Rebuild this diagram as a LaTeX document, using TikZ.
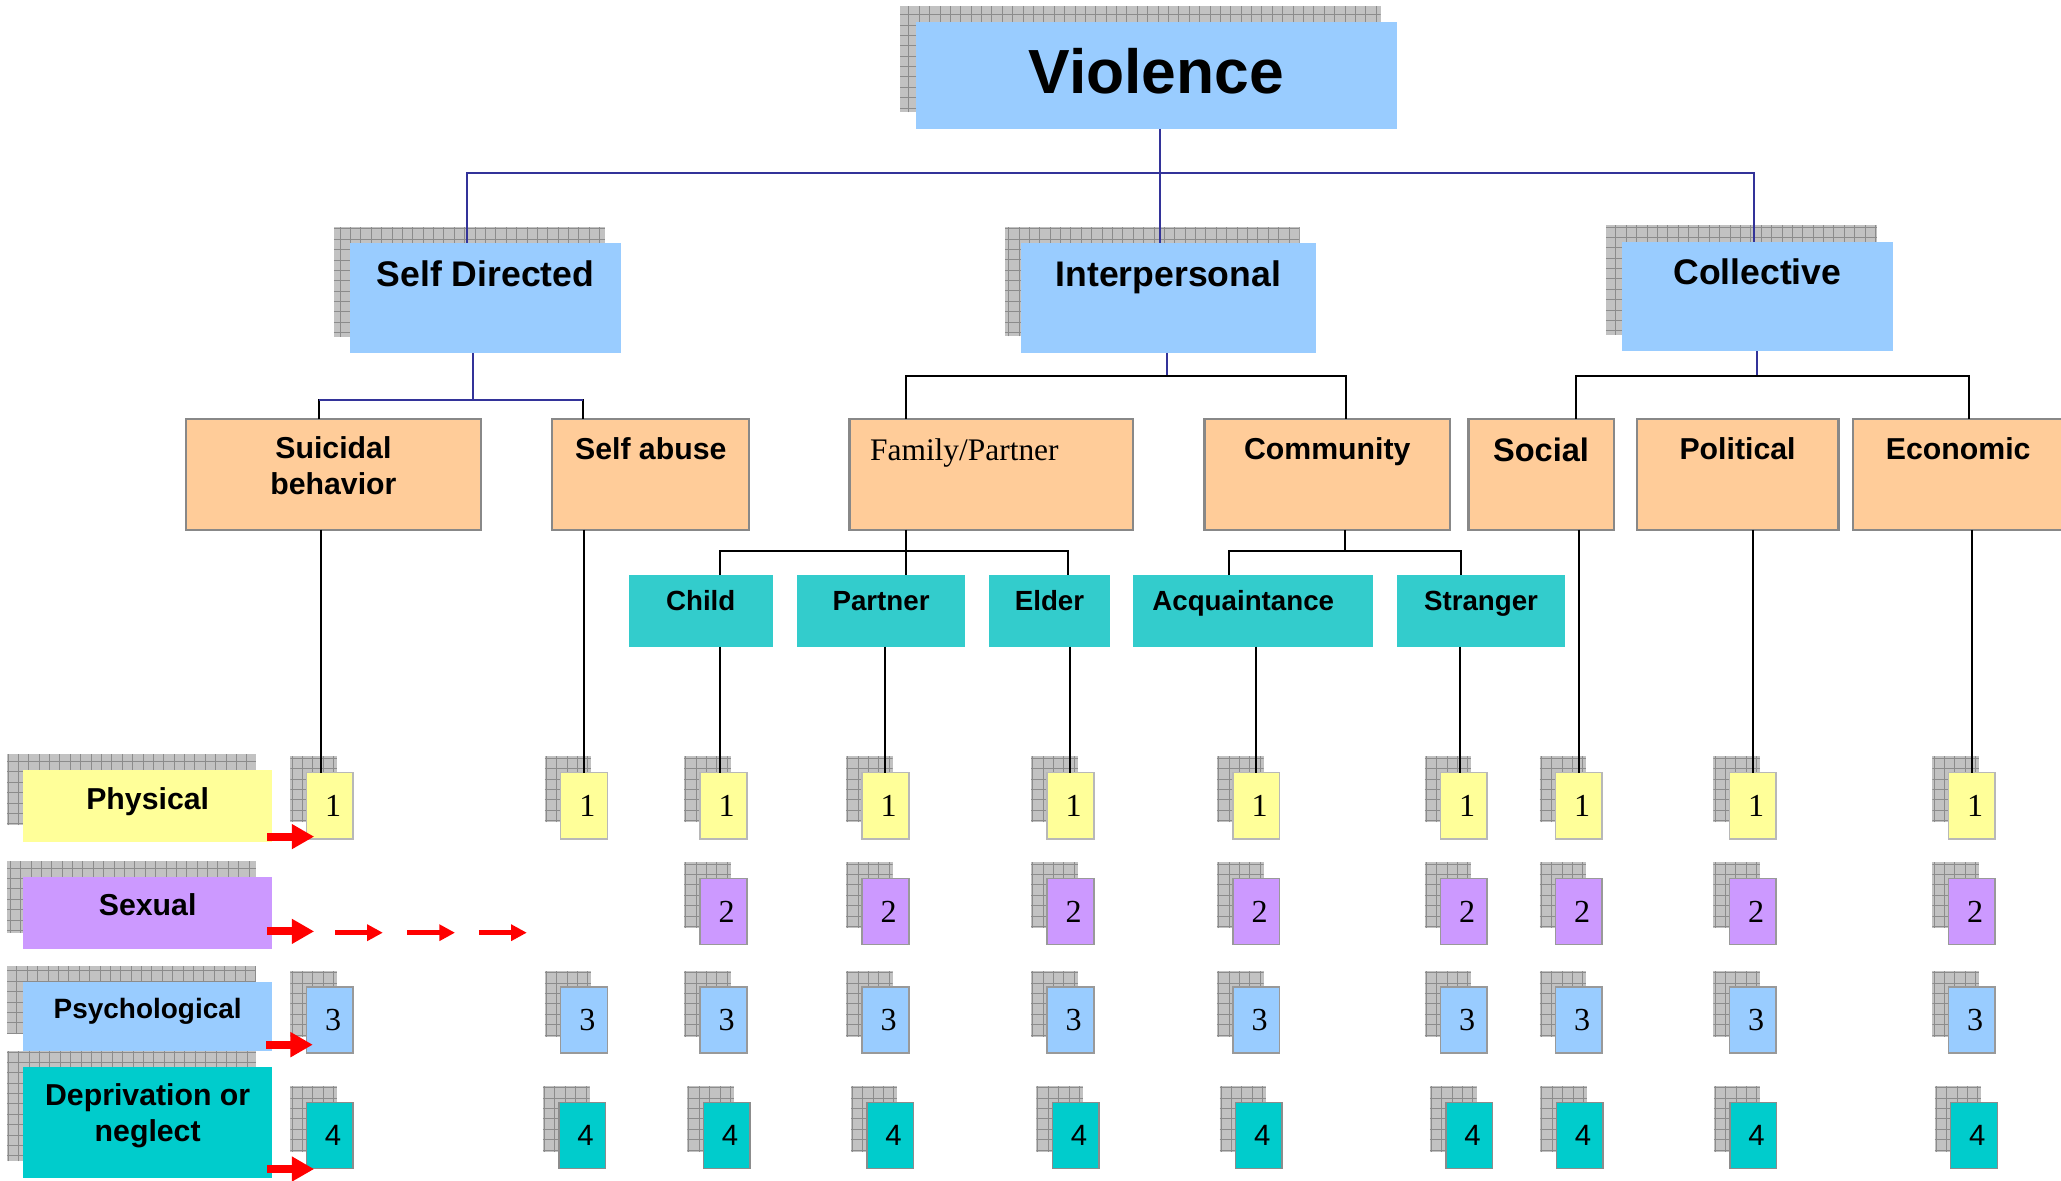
\documentclass[tikz,border=0pt]{standalone}
\usepackage{fontspec}
\setmainfont{Liberation Sans}
\newfontfamily\timesfont{Liberation Serif}
\usepackage{tikz}
\usetikzlibrary{arrows.meta,shadows}

\definecolor{skyblue}{HTML}{99CCFF}
\definecolor{peach}{HTML}{FFCC99}
\definecolor{tealbox}{HTML}{33CCCC}
\definecolor{paleyellow}{HTML}{FFFF99}
\definecolor{lilac}{HTML}{CC99FF}
\definecolor{cyanbox}{HTML}{00CCCC}
\definecolor{navyline}{HTML}{333399}
\definecolor{edgegray}{HTML}{888888}

\tikzset{
  box/.style={rectangle, inner sep=0pt, outer sep=0pt},
  gridshadow/.style={general shadow={shadow xshift=-0.244cm, shadow yshift=0.25cm, fill=black!24,
    path picture={\draw[black!45, line width=0.35pt, step=0.158cm]
      (path picture bounding box.south west) grid (path picture bounding box.north east);}}},
  topbox/.style={box, gridshadow, fill=skyblue, text height=0.66cm, text depth=1.01cm,
    font=\bfseries\fontsize{15.4}{18}\selectfont},
  kindbox/.style={box, fill=peach, draw=edgegray, line width=1pt, text height=0.62cm, text depth=1.066cm,
    font=\bfseries\fontsize{13.1}{15.6}\selectfont},
  subbox/.style={box, fill=tealbox, text height=0.542cm, text depth=0.548cm,
    font=\bfseries\fontsize{12}{14}\selectfont},
  legendbox/.style={box, gridshadow, minimum width=3.786cm, font=\bfseries\fontsize{13.1}{15.6}\selectfont},
  numbox/.style={box, gridshadow, minimum width=0.71cm, minimum height=1.006cm, line width=0.7pt,
    font=\timesfont\fontsize{13.9}{16}\selectfont, execute at begin node={\hspace{0.1cm}}},
  nphys/.style={numbox, fill=paleyellow, draw=black!28},
  nsex/.style={numbox, fill=lilac, draw=black!40},
  npsych/.style={numbox, fill=skyblue, draw=black!40},
  ndepr/.style={numbox, fill=cyanbox, draw=black!45, font=\fontsize{12.7}{15}\selectfont},
  buslink/.style={draw=navyline, line width=0.9pt},
  link/.style={draw=black, line width=0.85pt},
  bigarrow/.style={draw=red, line width=0.12cm, -{Triangle[length=0.34cm,width=0.36cm]}},
  smallarrow/.style={draw=red, line width=0.07cm, -{Triangle[length=0.24cm,width=0.24cm]}},
}

\begin{document}
\begin{tikzpicture}
%
\useasboundingbox (0,0) rectangle (31.36cm,17.96cm);
%
% top of the tree
\node[topbox, minimum width=7.31cm, text height=1.08cm, text depth=0.54cm,
  font=\bfseries\fontsize{27}{32}\selectfont] (viol) at (17.595,16.81) {Violence};
\node[topbox, minimum width=4.124cm] (selfdir) at (7.388,13.421) {Self Directed};
\node[topbox, minimum width=4.484cm] (inter) at (17.778,13.425) {Interpersonal};
\node[topbox, minimum width=4.12cm] (coll) at (26.74,13.45) {Collective};
%
% kinds
\node[kindbox, minimum width=4.494cm, align=center, text height=1.154cm, text depth=0.532cm] (suic) at (5.073,10.739) {Suicidal\\behavior};
\node[kindbox, minimum width=2.996cm] (sabuse) at (9.902,10.739) {Self abuse};
\node[kindbox, text width=3.688cm, inner xsep=0.316cm, align=left, text height=0.622cm, text depth=1.064cm,
  font=\timesfont\fontsize{13.6}{16}\selectfont] (family) at (15.084,10.739) {Family/Partner};
\node[kindbox, minimum width=3.738cm] (comm) at (20.195,10.739) {Community};
\node[kindbox, minimum width=2.212cm, text height=0.646cm, text depth=1.04cm,
  font=\bfseries\fontsize{14.1}{17}\selectfont] (social) at (23.448,10.739) {Social};
\node[kindbox, minimum width=3.068cm] (polit) at (26.438,10.739) {Political};
\node[kindbox, minimum width=3.21cm] (econ) at (29.795,10.739) {Economic};
%
\node[subbox, minimum width=2.196cm] (child) at (10.662,8.665) {Child};
\node[subbox, minimum width=2.556cm] (partner) at (13.406,8.665) {Partner};
\node[subbox, minimum width=1.842cm] (elder) at (15.969,8.665) {Elder};
\node[subbox, text width=3.062cm, inner xsep=0.29cm, align=left] (acq) at (19.065,8.665) {Acquaintance};
\node[subbox, minimum width=2.554cm] (stranger) at (22.535,8.665) {Stranger};
%
% nature of the violence
\node[legendbox, fill=paleyellow, text height=0.594cm, text depth=0.498cm] (phys) at (2.247,5.698) {Physical};
\node[legendbox, fill=lilac, text height=0.588cm, text depth=0.508cm] (sex) at (2.247,4.068) {Sexual};
\node[legendbox, fill=skyblue, text height=0.548cm, text depth=0.492cm,
  font=\bfseries\fontsize{12.1}{14}\selectfont] (psych) at (2.247,2.492) {Psychological};
\node[legendbox, fill=cyanbox, align=center, text height=1.122cm, text depth=0.558cm] (depr) at (2.247,0.88) {Deprivation or\\neglect};
%
\node[nphys] (su1) at (5.018,5.70) {1};
\node[npsych] (su3) at (5.018,2.436) {3};
\node[ndepr] (su4) at (5.018,0.682) {4};
\node[nphys] (sa1) at (8.886,5.70) {1};
\node[npsych] (sa3) at (8.886,2.436) {3};
\node[ndepr] (sa4) at (8.86,0.682) {4};
\node[nphys] (ch1) at (11.008,5.70) {1};
\node[nsex] (ch2) at (11.008,4.092) {2};
\node[npsych] (ch3) at (11.008,2.436) {3};
\node[ndepr] (ch4) at (11.058,0.682) {4};
\node[nphys] (pa1) at (13.472,5.70) {1};
\node[nsex] (pa2) at (13.472,4.092) {2};
\node[npsych] (pa3) at (13.472,2.436) {3};
\node[ndepr] (pa4) at (13.544,0.682) {4};
\node[nphys] (el1) at (16.288,5.70) {1};
\node[nsex] (el2) at (16.288,4.092) {2};
\node[npsych] (el3) at (16.288,2.436) {3};
\node[ndepr] (el4) at (16.368,0.682) {4};
\node[nphys] (ac1) at (19.115,5.70) {1};
\node[nsex] (ac2) at (19.115,4.092) {2};
\node[npsych] (ac3) at (19.115,2.436) {3};
\node[ndepr] (ac4) at (19.155,0.682) {4};
\node[nphys] (st1) at (22.275,5.70) {1};
\node[nsex] (st2) at (22.275,4.092) {2};
\node[npsych] (st3) at (22.275,2.436) {3};
\node[ndepr] (st4) at (22.355,0.682) {4};
\node[nphys] (so1) at (24.024,5.70) {1};
\node[nsex] (so2) at (24.024,4.092) {2};
\node[npsych] (so3) at (24.024,2.436) {3};
\node[ndepr] (so4) at (24.036,0.682) {4};
\node[nphys] (po1) at (26.67,5.70) {1};
\node[nsex] (po2) at (26.67,4.092) {2};
\node[npsych] (po3) at (26.67,2.436) {3};
\node[ndepr] (po4) at (26.676,0.682) {4};
\node[nphys] (ec1) at (30.002,5.70) {1};
\node[nsex] (ec2) at (30.002,4.092) {2};
\node[npsych] (ec3) at (30.002,2.436) {3};
\node[ndepr] (ec4) at (30.036,0.682) {4};
%
% connectors
\coordinate (topbus) at (17.65,15.33);
\coordinate (sdbus) at (7.19,11.874);
\coordinate (ipbus) at (17.75,12.24);
\coordinate (clbus) at (26.74,12.24);
\coordinate (fambus) at (13.78,9.57);
\coordinate (cmbus) at (20.47,9.57);
%
\draw[buslink] (topbus |- viol.south) -- (topbus);
\draw[buslink] (topbus) -| ([xshift=-0.28cm]selfdir.north);
\draw[buslink] (topbus) -| ([xshift=-0.13cm]inter.north);
\draw[buslink] (topbus) -| ([xshift=-0.05cm]coll.north);
%
\draw[buslink] (sdbus |- selfdir.south) -- (sdbus);
\draw[link] ([xshift=-0.22cm]suic.north) |- (sdbus) -| ([xshift=-1.03cm]sabuse.north);
\draw[buslink] ([xshift=-0.22cm]suic.north |- sdbus) -- ([xshift=-1.03cm]sabuse.north |- sdbus);
\draw[buslink] (ipbus |- inter.south) -- (ipbus);
\draw[link] ([xshift=-1.3cm]family.north) |- (ipbus) -| ([xshift=0.28cm]comm.north);
\draw[buslink] (clbus |- coll.south) -- (clbus);
\draw[link] ([xshift=0.53cm]social.north) |- (clbus) -| ([xshift=0.17cm]econ.north);
%
\draw[link] (fambus |- family.south) -- (fambus |- partner.north);
\draw[link] ([xshift=0.29cm]child.north) |- (fambus) -| ([xshift=0.28cm]elder.north);
\draw[link] (cmbus |- comm.south) -- (cmbus);
\draw[link] ([xshift=-0.36cm]acq.north) |- (cmbus) -| ([xshift=-0.31cm]stranger.north);
%
\draw[link] ([xshift=-0.14cm]su1.north |- suic.south) -- ([xshift=-0.14cm]su1.north);
\draw[link] (sa1.north |- sabuse.south) -- (sa1.north);
\draw[link] ([xshift=-0.05cm]ch1.north |- child.south) -- ([xshift=-0.05cm]ch1.north);
\draw[link] (pa1.north |- partner.south) -- (pa1.north);
\draw[link] (el1.north |- elder.south) -- (el1.north);
\draw[link] (ac1.north |- acq.south) -- (ac1.north);
\draw[link] ([xshift=-0.06cm]st1.north |- stranger.south) -- ([xshift=-0.06cm]st1.north);
\draw[link] (so1.north |- social.south) -- (so1.north);
\draw[link] (po1.north |- polit.south) -- (po1.north);
\draw[link] (ec1.north |- econ.south) -- (ec1.north);
%
% red arrows
\draw[bigarrow] ([xshift=-0.074cm,yshift=0.078cm]phys.south east) -- ++(0.714,0);
\draw[bigarrow] ([xshift=-0.074cm,yshift=0.268cm]sex.south east) -- ++(0.714,0);
\draw[smallarrow] ([xshift=0.958cm,yshift=0.248cm]sex.south east) -- ++(0.728,0);
\draw[smallarrow] ([xshift=2.056cm,yshift=0.248cm]sex.south east) -- ++(0.728,0);
\draw[smallarrow] ([xshift=3.148cm,yshift=0.248cm]sex.south east) -- ++(0.728,0);
\draw[bigarrow] ([xshift=-0.092cm,yshift=0.092cm]psych.south east) -- ++(0.712,0);
\draw[bigarrow] ([xshift=-0.074cm,yshift=0.132cm]depr.south east) -- ++(0.714,0);
%
\end{tikzpicture}
\end{document}
